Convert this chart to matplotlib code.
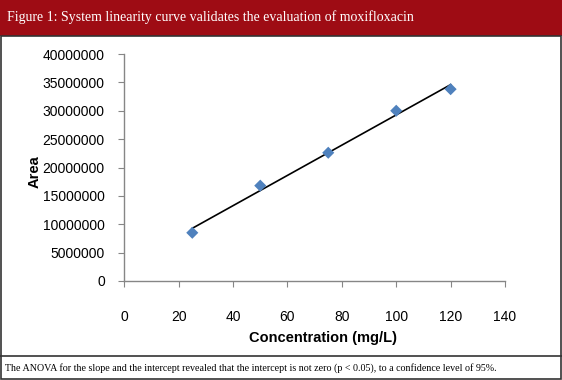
import matplotlib
matplotlib.use("Agg")
import matplotlib.pyplot as plt
from matplotlib.patches import Rectangle
import numpy as np

concentration = [25, 50, 75, 100, 120]
area = [8.5e6, 16.8e6, 22.6e6, 30.0e6, 33.8e6]
x_ticks = [0, 20, 40, 60, 80, 100, 120, 140]
y_ticks = [0, 5e6, 10e6, 15e6, 20e6, 25e6, 30e6, 35e6, 40e6]

title = "Figure 1: System linearity curve validates the evaluation of moxifloxacin"
caption = ("The ANOVA for the slope and the intercept revealed that the intercept "
           "is not zero (p < 0.05), to a confidence level of 95%.")

W, H = 562, 380
fig = plt.figure(figsize=(W / 100, H / 100), dpi=100)
fig.patch.set_facecolor("white")

# ---- frame: red header band, body border, caption box ----
red = "#9E0C14"
fig.patches.append(Rectangle((0, 1 - 36 / H), 1, 36 / H, transform=fig.transFigure,
                             facecolor=red, edgecolor="none", zorder=0))
fig.patches.append(Rectangle((1 / W, 1 / H), 1 - 2.5 / W, 1 - 37 / H, transform=fig.transFigure,
                             facecolor="none", edgecolor="#333333", lw=1.2, zorder=1))
fig.lines.append(plt.Line2D([0, 1], [1 - 356 / H, 1 - 356 / H], transform=fig.transFigure,
                            color="#333333", lw=1.2))
fig.text(7 / W, 1 - 17 / H, title, color="white", fontsize=10,
         family="Liberation Serif", va="center", ha="left")
fig.text(5 / W, 1 - 368 / H, caption, color="black", fontsize=7.2,
         family="Liberation Serif", va="center", ha="left")

# ---- chart ----
ax = fig.add_axes([124.3 / W, 1 - 281 / H, (505 - 124.3) / W, (281 - 54) / H])
ax.scatter(concentration, area, marker="D", s=38, color="#4F81BD", zorder=3,
           edgecolors="none")
slope, intercept = np.polyfit(concentration, area, 1)
xs = np.array([min(concentration), max(concentration)])
ax.plot(xs, slope * xs + intercept, color="black", lw=1.2, zorder=2)

ax.set_xlim(0, 140)
ax.set_ylim(0, 40e6)
ax.set_xticks(x_ticks)
ax.set_yticks(y_ticks)
ax.set_xticklabels([str(v) for v in x_ticks])
ax.set_yticklabels([str(int(v)) for v in y_ticks])
for s in ("top", "right"):
    ax.spines[s].set_visible(False)
for s in ("left", "bottom"):
    ax.spines[s].set_color("#868686")
    ax.spines[s].set_linewidth(1.0)
ax.tick_params(axis="both", direction="out", length=4, color="#868686",
               labelsize=10, labelcolor="black")
ax.tick_params(axis="x", pad=17)
ax.tick_params(axis="y", pad=10)
for lab in ax.get_xticklabels() + ax.get_yticklabels():
    lab.set_family("Liberation Sans")

ax.set_xlabel("Concentration (mg/L)", fontsize=10.5, fontweight="bold",
              family="Liberation Sans")
ax.set_ylabel("Area", fontsize=10.5, fontweight="bold",
              family="Liberation Sans")
ax.xaxis.set_label_coords((323 - 124.3) / 380.7, -(338 - 281) / 227)
ax.yaxis.set_label_coords(-(124.3 - 35) / 380.7, 0.48)
ax.xaxis.label.set_va("center")
ax.yaxis.label.set_va("center")

fig.savefig("out.png", dpi=100)
